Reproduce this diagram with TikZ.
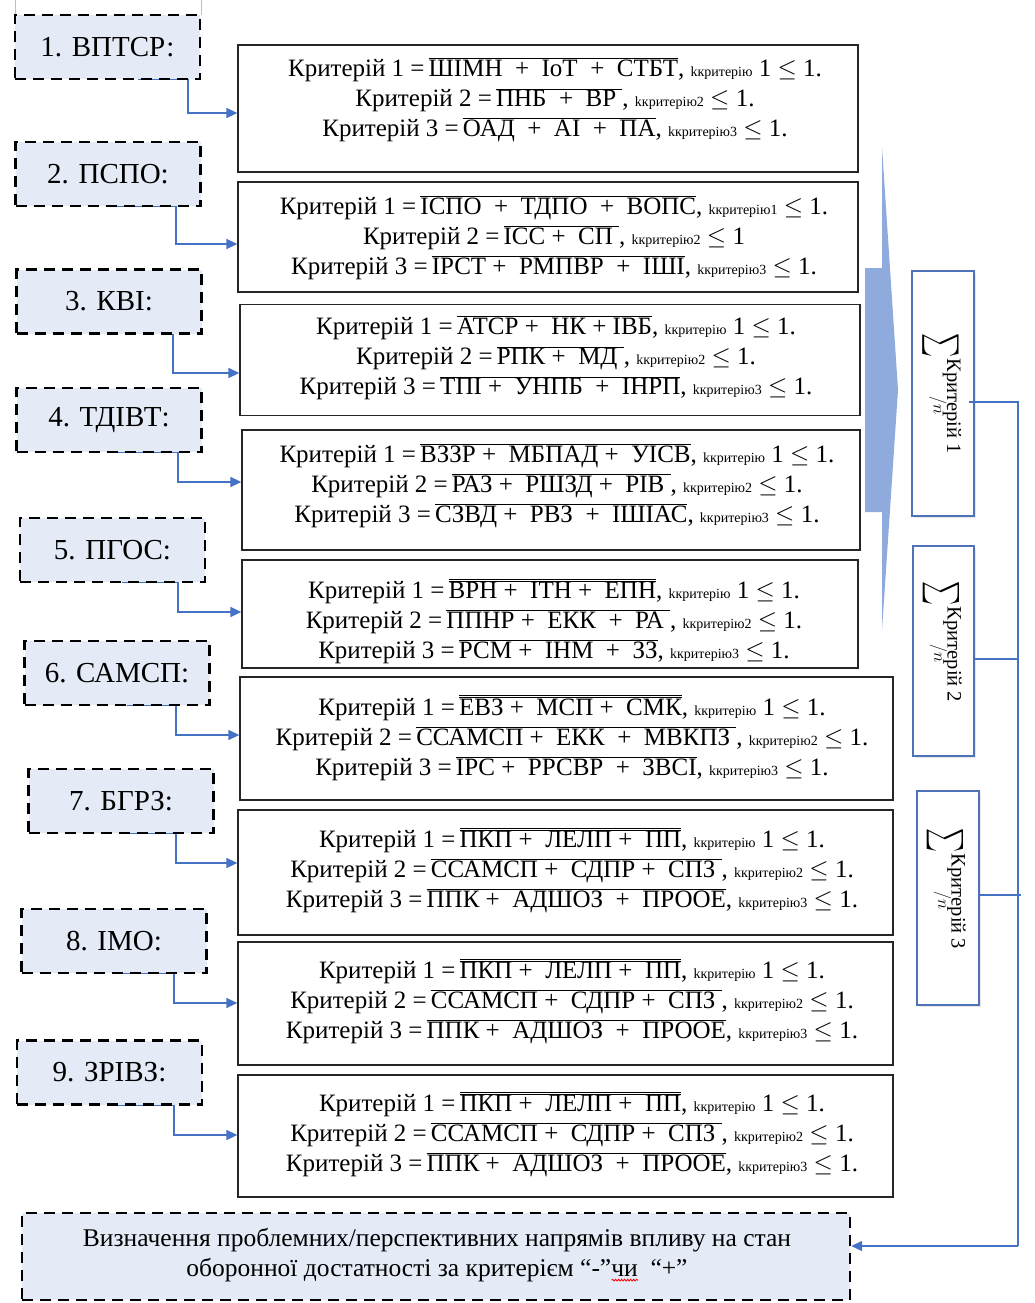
\documentclass[tikz,border=0pt]{standalone}
\usepackage{fontspec}
\setmainfont{Liberation Serif}
\usetikzlibrary{arrows.meta,shadows,decorations.pathmorphing}
\definecolor{fillblue}{HTML}{E4EAF6}
\definecolor{connblue}{HTML}{4472C4}
\definecolor{arrblue}{HTML}{8FAADC}
\definecolor{sumblue}{HTML}{4F72B8}
\definecolor{boxgray}{HTML}{262626}
\newcommand\ovl[1]{\ensuremath{\overline{\hbox{#1}}}}
\newcommand\ovll[1]{\ensuremath{\overline{\overline{\hbox{#1}}}}}
\newcommand\kone{{\fontsize{14}{14}\selectfont kкритерію} 1}
\newcommand\kn[1]{{\fontsize{14}{14}\selectfont kкритерію#1}}
\newcommand\sumtxt[1]{\raisebox{-12pt}{\resizebox{24pt}{37pt}{$\sum$}}\hspace{1pt}%
  \begin{tabular}[b]{@{}l@{}}Критерій #1\\[-7pt]\hspace*{38pt}{\fontsize{17}{17}\selectfont$/n$}\end{tabular}}
\newsavebox\wavybox
\newcommand\wavyred[1]{\sbox\wavybox{#1}\rlap{\raisebox{-5pt}{\tikz\draw[red, line width=0.8pt, decorate,
  decoration={snake, amplitude=0.9pt, segment length=3pt}] (0pt,0pt) -- (\wd\wavybox,0pt);}}\usebox\wavybox}
\tikzset{
  lbox/.style={draw=black, fill=fillblue, line width=2.4pt, dash pattern=on 11pt off 7pt,
    minimum width=185pt, minimum height=64pt, inner sep=0pt, font=\fontsize{29}{30}\selectfont},
  rbox/.style={draw=boxgray, line width=1.3pt, inner sep=0pt},
  rtxt/.style={align=center, inner sep=0pt, font=\fontsize{25}{30}\selectfont},
  conn/.style={draw=connblue, line width=1.5pt, -{Triangle[length=11pt,width=10pt]}},
  bline/.style={draw=connblue, line width=1.3pt},
  sbox/.style={draw=sumblue, line width=1.4pt, fill=white, inner sep=0pt,
    drop shadow={shadow xshift=1.5pt, shadow yshift=-1.5pt, opacity=0.18}},
  stxt/.style={rotate=-90, inner sep=0pt, font=\fontsize{20.5}{20.5}\selectfont},
}
\begin{document}
\begin{tikzpicture}[x=1pt,y=-1pt]
\useasboundingbox (0,0) rectangle (1035,1303);
% faint frame remnants
\draw[black!25, line width=0.8pt] (15,0) -- (15,15) (201,0) -- (201,15);

% right formula boxes
\node[rbox, minimum width=620pt, minimum height=127pt] (r1) at (548,108.5) {};
\node[rbox, minimum width=620pt, minimum height=110pt] (r2) at (548,237) {};
\node[rbox, minimum width=620pt, minimum height=111pt] (r3) at (550,360) {};
\node[rbox, minimum width=618pt, minimum height=120pt] (r4) at (551,490) {};
\node[rbox, minimum width=616pt, minimum height=108pt] (r5) at (550,614) {};
\node[rbox, minimum width=653pt, minimum height=123pt] (r6) at (566.5,738.5) {};
\node[rbox, minimum width=655pt, minimum height=125pt] (r7) at (565.5,872.5) {};
\node[rbox, minimum width=655pt, minimum height=123pt] (r8) at (565.5,1003.5) {};
\node[rbox, minimum width=655pt, minimum height=122pt] (r9) at (565.5,1136) {};

\node[rtxt] (t1) at (555,100) {Критерій 1 =\,\ovl{ШІМН\ \ +\ \ IoT\ \ +\ \ СТБТ}, \kone\ $\le$ 1.\\
Критерій 2 =\,\ovl{ПНБ\ \ +\ \ ВР\ }, \kn{2} $\le$ 1.\\
Критерій 3 =\,\ovl{ОАД\ \ +\ \ АІ\ \ +\ \ ПА}, \kn{3} $\le$ 1.};
\node[rtxt] (t2) at (554,238) {Критерій 1 =\,\ovl{ІСПО\ \ +\ \ ТДПО\ \ +\ \ ВОПС}, \kn{1} $\le$ 1.\\
Критерій 2 =\,\ovl{ІСС +\ \ СП\ }, \kn{2} $\le$ 1\\
Критерій 3 =\,\ovl{ІРСТ +\ \ РМПВР\ \ +\ \ ІШІ}, \kn{3} $\le$ 1.};
\node[rtxt] (t3) at (556,358) {Критерій 1 =\,\ovl{АТСР +\ \ НК + ІВБ}, \kone\ $\le$ 1.\\
Критерій 2 =\,\ovl{РПК +\ \ МД\ }, \kn{2} $\le$ 1.\\
Критерій 3 =\,\ovl{ТПІ +\ \ УНПБ\ \ +\ \ ІНРП}, \kn{3} $\le$ 1.};
\node[rtxt] (t4) at (557,486) {Критерій 1 =\,\ovl{ВЗЗР +\ \ МБПАД +\ \ УІСВ}, \kone\ $\le$ 1.\\
Критерій 2 =\,\ovl{РАЗ +\ \ РШЗД\ +\ \ РІВ\ }, \kn{2} $\le$ 1.\\
Критерій 3 =\,\ovl{СЗВД +\ \ РВЗ\ \ +\ \ ІШІАС}, \kn{3} $\le$ 1.};
\node[rtxt] (t5) at (554,621) {Критерій 1 =\,\ovll{ВРН +\ \ ІТН +\ \ ЕПН}, \kone\ $\le$ 1.\\
Критерій 2 =\,\ovl{ППНР +\ \ ЕКК\ \ +\ \ РА\ }, \kn{2} $\le$ 1.\\
Критерій 3 =\,\ovl{РСМ +\ \ ІНМ\ \ +\ \ ЗЗ}, \kn{3} $\le$ 1.};
\node[rtxt] (t6) at (572,738) {Критерій 1 =\,\ovll{ЕВЗ +\ \ МСП +\ \ СМК}, \kone\ $\le$ 1.\\
Критерій 2 =\,\ovl{ССАМСП +\ \ ЕКК\ \ +\ \ МВКПЗ\ }, \kn{2} $\le$ 1.\\
Критерій 3 =\,\ovl{ІРС +\ \ РРСВР\ \ +\ \ ЗВСІ}, \kn{3} $\le$ 1.};
\node[rtxt] (t7) at (572,870) {Критерій 1 =\,\ovll{ПКП +\ \ ЛЕЛП +\ \ ПП}, \kone\ $\le$ 1.\\
Критерій 2 =\,\ovl{ССАМСП +\ \ СДПР +\ \ СПЗ\ }, \kn{2} $\le$ 1.\\
Критерій 3 =\,\ovl{ППК +\ \ АДШОЗ\ \ +\ \ ПРООЕ}, \kn{3} $\le$ 1.};
\node[rtxt] (t8) at (572,1001) {Критерій 1 =\,\ovll{ПКП +\ \ ЛЕЛП +\ \ ПП}, \kone\ $\le$ 1.\\
Критерій 2 =\,\ovl{ССАМСП +\ \ СДПР +\ \ СПЗ\ }, \kn{2} $\le$ 1.\\
Критерій 3 =\,\ovl{ППК +\ \ АДШОЗ\ \ +\ \ ПРООЕ}, \kn{3} $\le$ 1.};
\node[rtxt] (t9) at (572,1134) {Критерій 1 =\,\ovll{ПКП +\ \ ЛЕЛП +\ \ ПП}, \kone\ $\le$ 1.\\
Критерій 2 =\,\ovl{ССАМСП +\ \ СДПР +\ \ СПЗ\ }, \kn{2} $\le$ 1.\\
Критерій 3 =\,\ovl{ППК +\ \ АДШОЗ\ \ +\ \ ПРООЕ}, \kn{3} $\le$ 1.};

% connectors (drawn before left boxes so dashes lie over them)
\draw[conn] (138,79) -- (188,79) |- (r1.west |- 0,113);
\draw[conn] (117,206) -- (176,206) |- (r2.west |- 0,244);
\draw[conn] (118,333) -- (173,333) |- (r3.west |- 0,373);
\draw[conn] (118,452) -- (178,452) |- (r4.west |- 0,482);
\draw[conn] (122,582) -- (178,582) |- (r5.west |- 0,612);
\draw[conn] (127,705) -- (176,705) |- (r6.west |- 0,735);
\draw[conn] (128,833) -- (176,833) |- (r7.west |- 0,863);
\draw[conn] (123,973) -- (174,973) |- (r8.west |- 0,1003);
\draw[conn] (118,1105) -- (174,1105) |- (r9.west |- 0,1135);

% left dashed boxes
\node[lbox] (l1) at (107.5,47) {1. ВПТСР:};
\node[lbox] (l2) at (108,174) {2. ПСПО:};
\node[lbox] (l3) at (109,301.5) {3. КВІ:};
\node[lbox] (l4) at (109,420) {4. ТДІВТ:};
\node[lbox] (l5) at (112.5,550) {5. ПГОС:};
\node[lbox] (l6) at (117,673) {6. САМСП:};
\node[lbox] (l7) at (121,801) {7. БГРЗ:};
\node[lbox] (l8) at (114,941) {8. ІМО:};
\node[lbox] (l9) at (109.5,1072.5) {9. ЗРІВЗ:};

% big arrow
\fill[arrblue] (865,268) -- (882,268) -- (882,147) -- (898,390) -- (882,630) -- (882,512) -- (865,512) -- cycle;

% sum boxes
\node[sbox, minimum width=62pt, minimum height=245pt] (s1) at (943,393.5) {};
\node[sbox, minimum width=61pt, minimum height=210pt] (s2) at (943.5,651) {};
\node[sbox, minimum width=62pt, minimum height=214pt] (s3) at (948,898) {};
\node[stxt] (s1t) at (941.5,393.5) {\sumtxt{1}};
\node[stxt] (s2t) at (942,642) {\sumtxt{2}};
\node[stxt] (s3t) at (946,889) {\sumtxt{3}};

% bottom box
\node[lbox, minimum width=828pt, minimum height=87pt] (bot) at (436,1256.5) {};
\node[align=center, inner sep=0pt, font=\fontsize{25.5}{30}\selectfont] (bt) at (437,1255)
  {Визначення проблемних/перспективних напрямів впливу на стан\\
   оборонної достатності за критерієм “-”\wavyred{чи}\ \ “+”};

% collecting lines
\coordinate (j) at (1018,1246);
\draw[bline] ([xshift=-6pt,yshift=-8.5pt]s1.east) -| (j);
\draw[bline] ([yshift=-8pt]s2.east) -- ++(43,0);
\draw[bline] ([xshift=-2pt,yshift=3pt]s3.east) -- ++(43,0);
\draw[conn] (j) -- (bot.east |- j);
\end{tikzpicture}
\end{document}
